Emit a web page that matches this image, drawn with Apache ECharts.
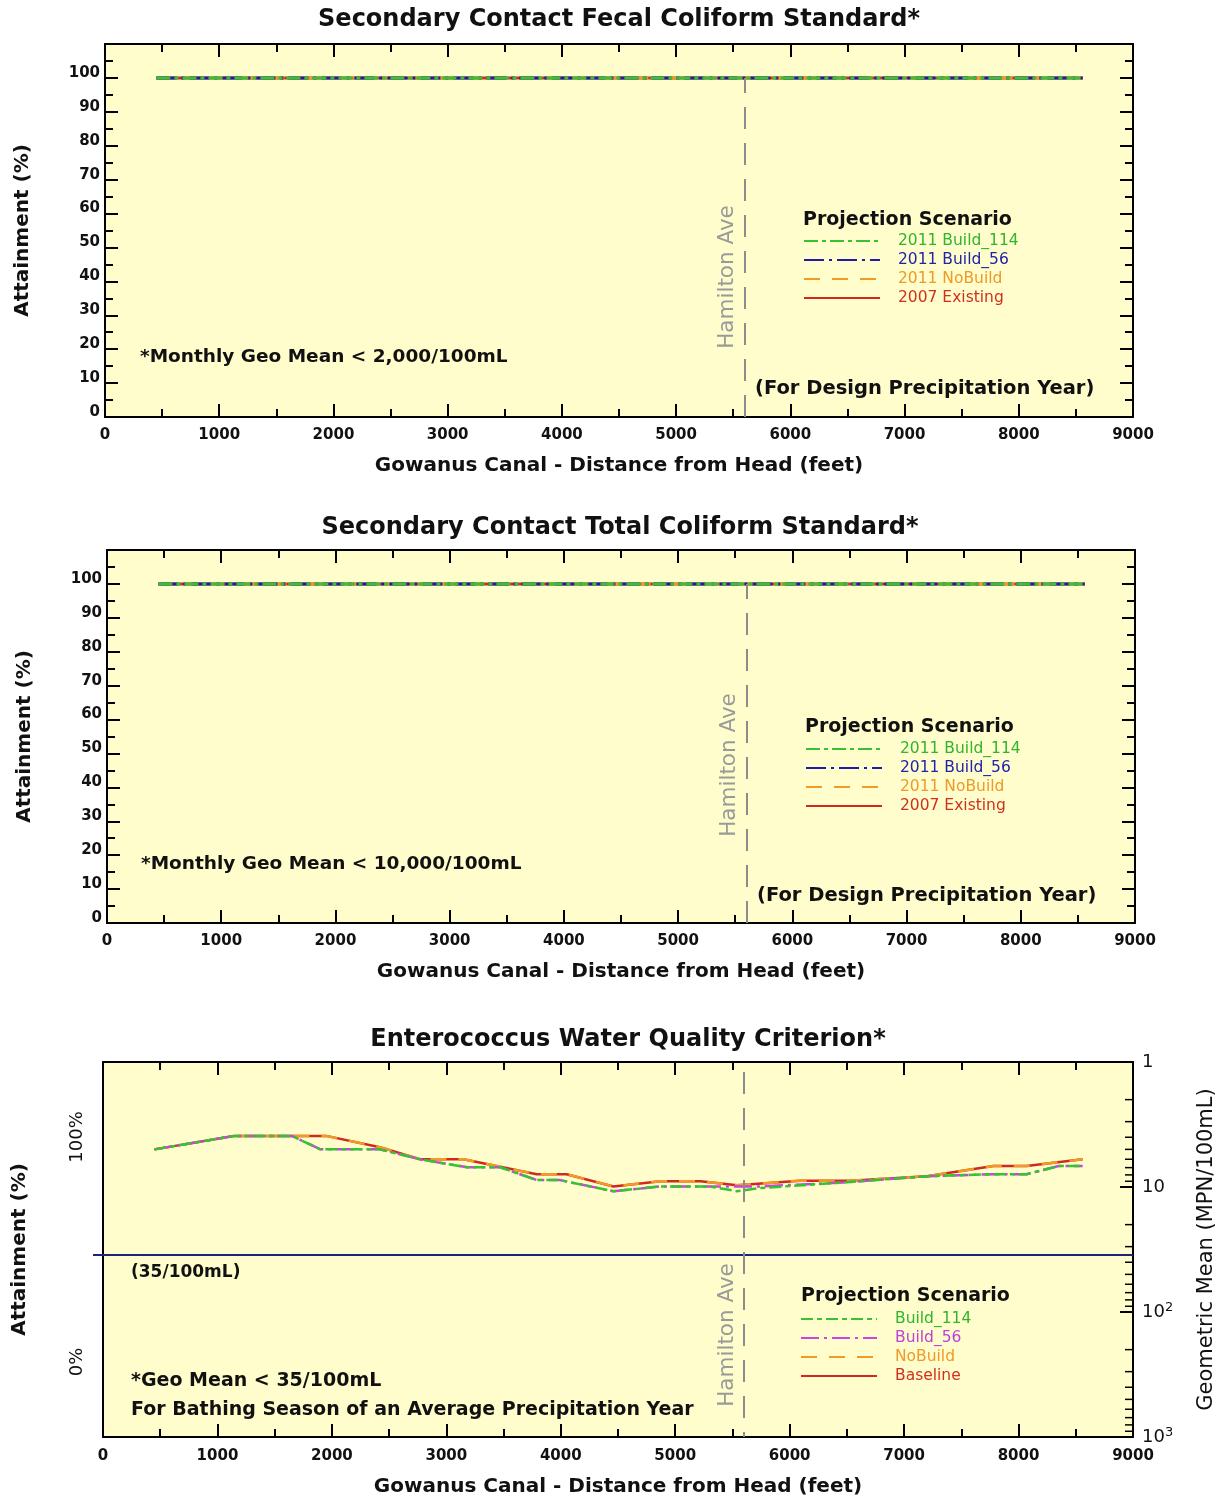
<!DOCTYPE html>
<html><head><meta charset="utf-8">
<script src="https://cdn.jsdelivr.net/npm/echarts@6/dist/echarts.min.js"></script>
<style>html,body{margin:0;padding:0;background:#fff}#c{width:1225px;height:1500px}</style>
</head><body><div id="c"></div>
<script>
// ---------------- DATA ----------------
const xTickValues = [0, 1000, 2000, 3000, 4000, 5000, 6000, 7000, 8000, 9000];
const hamiltonFeet = 5600;

// Charts 1 & 2: attainment (%) along the canal, all scenarios
const attainStations = [450, 1150, 1950, 2420, 2770, 3150, 3790, 4050, 4460, 4870, 5220, 5540, 6090, 6530, 7200, 7780, 8070, 8560];
const fecalBuild114 = [100,100,100,100,100,100,100,100,100,100,100,100,100,100,100,100,100,100];
const fecalBuild56  = [100,100,100,100,100,100,100,100,100,100,100,100,100,100,100,100,100,100];
const fecalNoBuild  = [100,100,100,100,100,100,100,100,100,100,100,100,100,100,100,100,100,100];
const fecalExisting = [100,100,100,100,100,100,100,100,100,100,100,100,100,100,100,100,100,100];
const totalBuild114 = [100,100,100,100,100,100,100,100,100,100,100,100,100,100,100,100,100,100];
const totalBuild56  = [100,100,100,100,100,100,100,100,100,100,100,100,100,100,100,100,100,100];
const totalNoBuild  = [100,100,100,100,100,100,100,100,100,100,100,100,100,100,100,100,100,100];
const totalExisting = [100,100,100,100,100,100,100,100,100,100,100,100,100,100,100,100,100,100];

// Chart 3: geometric mean (MPN/100mL)
const baselineX   = [450, 1150, 1950, 2420, 2770, 3150, 3790, 4050, 4460, 4870, 5220, 5540, 6090, 6530, 7200, 7780, 8070, 8560];
const baselineGM  = [5.0, 3.9, 3.9, 4.8, 6.0, 6.0, 7.9, 7.9, 9.9, 9.0, 9.0, 9.7, 8.9, 8.9, 8.2, 6.8, 6.8, 6.0];
const noBuildX    = [450, 1150, 1950, 2420, 2770, 3150, 3790, 4050, 4460, 4870, 5220, 5540, 6090, 6530, 7200, 7780, 8070, 8560];
const noBuildGM   = [5.0, 3.9, 3.9, 4.8, 6.0, 6.0, 7.9, 7.9, 9.9, 9.0, 9.0, 9.7, 8.9, 8.9, 8.2, 6.8, 6.8, 6.0];
const build114X   = [450, 1150, 1650, 1900, 2420, 2770, 3180, 3470, 3790, 3990, 4460, 4870, 5300, 5540, 5740, 6470, 7200, 7780, 8070, 8350, 8560];
const build114GM  = [5.0, 3.9, 3.9, 5.0, 5.0, 6.0, 6.95, 6.95, 8.8, 8.8, 10.8, 9.9, 9.9, 10.8, 10.2, 9.2, 8.2, 7.9, 7.9, 6.8, 6.8];
const build56X    = [450, 1150, 1650, 1900, 2420, 2770, 3180, 3470, 3790, 3990, 4460, 4870, 5300, 5540, 5740, 6470, 7200, 7780, 8070, 8350, 8560];
const build56GM   = [5.0, 3.9, 3.9, 5.0, 5.0, 6.0, 6.95, 6.95, 8.8, 8.8, 10.8, 9.9, 9.9, 9.9, 9.9, 9.2, 8.2, 7.9, 7.9, 6.8, 6.8];
const thresholdGeoMean = 35;
const logMinorTicks = [2,3,4,5,6,7,8,9,20,30,40,50,60,70,80,90,200,300,400,500,600,700,800,900];

// ---------------- STYLE ----------------
const FONT = '"DejaVu Sans", Verdana, sans-serif';
const BG = '#fffdcc';
const C = { green:'#35c235', blue:'#1c1ca6', orange:'#f29a26', red:'#d02a1e', magenta:'#cc44dd', gray:'#8c8c8c' };
const pairs = (xs, ys) => xs.map((x, i) => [x, ys[i]]);

function xAxes(g, labelMargin, nameGap) {
  const common = {
    type:'value', gridIndex:g, min:0, max:9000, interval:1000,
    axisLine:{show:true, onZero:false, lineStyle:{color:'#000', width:2}},
    axisTick:{show:true, inside:true, length:13, lineStyle:{color:'#000', width:2}},
    minorTick:{show:true, splitNumber:2, length:8, lineStyle:{color:'#000', width:2}},
    splitLine:{show:false}, minorSplitLine:{show:false}
  };
  return [
    Object.assign({}, common, {position:'bottom',
      axisLabel:{show:true, margin:labelMargin, color:'#111', fontFamily:FONT, fontWeight:'bold', fontSize:15,
        formatter: v => String(v), showMinLabel:true, showMaxLabel:true, hideOverlap:false},
      name:'Gowanus Canal - Distance from Head (feet)', nameLocation:'middle', nameGap:nameGap,
      nameTextStyle:{color:'#111', fontFamily:FONT, fontWeight:'bold', fontSize:20}}),
    Object.assign({}, common, {position:'top', axisLabel:{show:false}})
  ];
}
function pctYAxes(g) {
  const common = {
    type:'value', gridIndex:g, min:0, max:110, interval:10,
    axisLine:{show:true, onZero:false, lineStyle:{color:'#000', width:2}},
    axisTick:{show:true, inside:true, length:13, lineStyle:{color:'#000', width:2}},
    minorTick:{show:true, splitNumber:2, length:8, lineStyle:{color:'#000', width:2}},
    splitLine:{show:false}, minorSplitLine:{show:false}
  };
  return [
    Object.assign({}, common, {position:'left',
      axisLabel:{show:true, margin:5, verticalAlign:'bottom', lineHeight:10, color:'#111', fontFamily:FONT, fontWeight:'bold', fontSize:15,
        formatter: v => v > 100 ? '' : String(v), showMinLabel:true, showMaxLabel:true},
      name:'Attainment (%)', nameLocation:'middle', nameGap:72,
      nameTextStyle:{color:'#111', fontFamily:FONT, fontWeight:'bold', fontSize:20}}),
    Object.assign({}, common, {position:'right', axisLabel:{show:false}})
  ];
}
function lineSeries(name, data, color, dash, xi, yi, width, extra) {
  return Object.assign({
    type:'line', name, data, xAxisIndex:xi, yAxisIndex:yi, symbol:'none', showSymbol:false,
    lineStyle:{color, width, type:dash}, itemStyle:{color}, animation:false, silent:true
  }, extra || {});
}
function hamiltonMark(yLow, yHigh) {
  return { markLine: { silent:true, symbol:'none', animation:false, label:{show:false},
    lineStyle:{color:C.gray, width:2, type:[22,14]},
    data:[[{coord:[hamiltonFeet, yLow]}, {coord:[hamiltonFeet, yHigh]}]] } };
}
function legendCfg(left, top, items) {
  return { orient:'vertical', left, top, padding:0, itemWidth:76, itemHeight:14, itemGap:3, selectedMode:false,
    itemStyle:{opacity:0, color:'transparent', borderColor:'transparent', borderWidth:0},
    textStyle:{fontFamily:FONT, fontSize:15.5, lineHeight:15, padding:[0,0,0,13]},
    data: items.map(([n, col]) => ({name:n, textStyle:{color:col}})) };
}
function txt(x, y, text, opt) {
  return Object.assign({ type:'text', x, y, z:100, silent:true,
    style: Object.assign({ text, fill:'#111', font:'bold 18.5px ' + FONT, verticalAlign:'middle', align:'left' }, (opt||{}).style || {}) },
    (opt||{}).rotation !== undefined ? {rotation: opt.rotation} : {});
}
function hamiltonText(x, y) {
  return txt(x, y, 'Hamilton Ave', {rotation: Math.PI/2, style:{fill:'#9a9a9a', font:'21.5px ' + FONT, align:'center'}});
}
const titleStyle = {color:'#111', fontFamily:FONT, fontWeight:'bold', fontSize:24};

const xa = [].concat(xAxes(0, 11, 39), xAxes(1, 11, 39), xAxes(2, 12, 40));
const ya = [].concat(pctYAxes(0), pctYAxes(1));
// chart 3 axes
ya.push({
  type:'value', gridIndex:2, min:0, max:10, interval:1, position:'left',
  axisLine:{show:true, onZero:false, lineStyle:{color:'#000', width:2}},
  axisTick:{show:false}, splitLine:{show:false},
  axisLabel:{show:true, rotate:90, margin:17, color:'#111', fontFamily:FONT, fontSize:18,
    formatter: v => v === 2 ? '0%' : (v === 8 ? '100%' : '')},
  name:'Attainment (%)', nameLocation:'middle', nameGap:73,
  nameTextStyle:{color:'#111', fontFamily:FONT, fontWeight:'bold', fontSize:20}
});
ya.push({
  type:'log', logBase:10, gridIndex:2, min:1, max:1000, inverse:true, position:'right',
  axisLine:{show:true, onZero:false, lineStyle:{color:'#000', width:2}},
  axisTick:{show:true, inside:true, length:13, lineStyle:{color:'#000', width:2}},
  minorTick:{show:false}, splitLine:{show:false},
  axisLabel:{show:true, margin:9, color:'#111', fontFamily:FONT, fontSize:18,
    formatter: v => v === 100 ? '10{s|2}' : (v === 1000 ? '10{s|3}' : String(v)),
    rich:{ s:{fontSize:13, fontFamily:FONT, color:'#111', padding:[0,0,9,0]} }},
  name:'Geometric Mean (MPN/100mL)', nameLocation:'middle', nameGap:63, nameRotate:90,
  nameTextStyle:{color:'#111', fontFamily:FONT, fontSize:21}
});

const series = [
  // chart 1
  lineSeries('2007 Existing', pairs(attainStations, fecalExisting), C.red, 'solid', 0, 0, 3, hamiltonMark(0, 100)),
  lineSeries('2011 NoBuild', pairs(attainStations, fecalNoBuild), C.orange, [16,12], 0, 0, 3),
  lineSeries('2011 Build_56', pairs(attainStations, fecalBuild56), C.blue, [20,5,3,5], 0, 0, 3),
  lineSeries('2011 Build_114', pairs(attainStations, fecalBuild114), C.green, [14,4,4,4], 0, 0, 3),
  // chart 2
  lineSeries('2007 Existing', pairs(attainStations, totalExisting), C.red, 'solid', 2, 2, 3, hamiltonMark(0, 100)),
  lineSeries('2011 NoBuild', pairs(attainStations, totalNoBuild), C.orange, [16,12], 2, 2, 3),
  lineSeries('2011 Build_56', pairs(attainStations, totalBuild56), C.blue, [20,5,3,5], 2, 2, 3),
  lineSeries('2011 Build_114', pairs(attainStations, totalBuild114), C.green, [14,4,4,4], 2, 2, 3),
  // chart 3
  lineSeries('Baseline', pairs(baselineX, baselineGM), C.red, 'solid', 4, 5, 2.5, hamiltonMark(1.2, 1000)),
  lineSeries('NoBuild', pairs(noBuildX, noBuildGM), C.orange, [16,12], 4, 5, 2.5),
  lineSeries('Build_56', pairs(build56X, build56GM), C.magenta, [18,5,3,5], 4, 5, 2.5),
  lineSeries('Build_114', pairs(build114X, build114GM), C.green, [12,4,5,4], 4, 5, 2.5),
  // threshold (35/100mL) line
  { type:'custom', name:'threshold', xAxisIndex:4, yAxisIndex:5, silent:true, animation:false, clip:false, z:3,
    data:[[xTickValues[0], thresholdGeoMean]],
    renderItem:(p, api) => {
      const a = api.coord([xTickValues[0], api.value(1)]);
      const b = api.coord([xTickValues[xTickValues.length-1], api.value(1)]);
      return {type:'line', shape:{x1:a[0]-10, y1:a[1], x2:b[0], y2:b[1]}, style:{stroke:'#1a237e', lineWidth:2}};
    } },
  // log-axis minor ticks on the right axis
  { type:'custom', name:'logMinor', xAxisIndex:4, yAxisIndex:5, silent:true, animation:false, clip:false, z:5,
    data: logMinorTicks.map(v => [xTickValues[xTickValues.length-1], v]),
    renderItem:(p, api) => {
      const pt = api.coord([api.value(0), api.value(1)]);
      return {type:'line', shape:{x1:pt[0]-8, y1:pt[1], x2:pt[0], y2:pt[1]}, style:{stroke:'#000', lineWidth:1.5}};
    } }
];

const option = {
  backgroundColor:'#ffffff',
  animation:false,
  textStyle:{fontFamily:FONT},
  title:[
    {text:'Secondary Contact Fecal Coliform Standard*', left:619, top:8, textAlign:'center', padding:0, textStyle:titleStyle},
    {text:'Secondary Contact Total Coliform Standard*', left:620, top:516, textAlign:'center', padding:0, textStyle:titleStyle},
    {text:'Enterococcus Water Quality Criterion*', left:628, top:1028, textAlign:'center', padding:0, textStyle:titleStyle}
  ],
  grid:[
    {left:105, top:44, width:1028, height:373, show:true, backgroundColor:BG, borderWidth:0, containLabel:false},
    {left:107, top:550, width:1028, height:373, show:true, backgroundColor:BG, borderWidth:0, containLabel:false},
    {left:103, top:1062, width:1030, height:375, show:true, backgroundColor:BG, borderWidth:0, containLabel:false}
  ],
  xAxis: xa,
  yAxis: ya,
  legend:[
    legendCfg(803, 233, [['2011 Build_114','#2fb52f'],['2011 Build_56','#2323a8'],['2011 NoBuild','#ee9a2a'],['2007 Existing','#d2301e']]),
    legendCfg(805, 741, [['2011 Build_114','#2fb52f'],['2011 Build_56','#2323a8'],['2011 NoBuild','#ee9a2a'],['2007 Existing','#d2301e']]),
    legendCfg(800, 1311, [['Build_114','#2fb52f'],['Build_56','#c040d8'],['NoBuild','#ee9a2a'],['Baseline','#d2301e']])
  ],
  graphic:[
    txt(803, 220, 'Projection Scenario', {style:{font:'bold 19px ' + FONT}}),
    hamiltonText(727, 277),
    txt(140, 357, '*Monthly Geo Mean < 2,000/100mL'),
    txt(755, 389, '(For Design Precipitation Year)', {style:{font:'bold 19.5px ' + FONT}}),
    txt(805, 727, 'Projection Scenario', {style:{font:'bold 19px ' + FONT}}),
    hamiltonText(729, 765),
    txt(141, 864, '*Monthly Geo Mean < 10,000/100mL'),
    txt(757, 896, '(For Design Precipitation Year)', {style:{font:'bold 19.5px ' + FONT}}),
    txt(801, 1296, 'Projection Scenario', {style:{font:'bold 19px ' + FONT}}),
    hamiltonText(727, 1335),
    txt(131, 1273, '(35/100mL)', {style:{font:'bold 17px ' + FONT}}),
    txt(131, 1381, '*Geo Mean < 35/100mL', {style:{font:'bold 19px ' + FONT}}),
    txt(131, 1410, 'For Bathing Season of an Average Precipitation Year', {style:{font:'bold 19px ' + FONT}})
  ],
  series
};
const chart = echarts.init(document.getElementById('c'), null, {renderer:'canvas'});
chart.setOption(option);
</script></body></html>
